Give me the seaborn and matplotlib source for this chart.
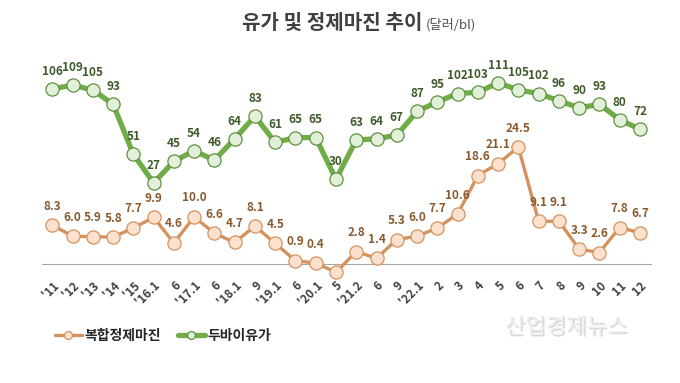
import numpy as np
import pandas as pd
import matplotlib
matplotlib.use('Agg')
import matplotlib.pyplot as plt
import matplotlib.patheffects as pe
import seaborn as sns

sns.set_style('white')
plt.rcParams['font.family'] = ['Noto Sans CJK KR', 'DejaVu Sans']

# data
periods = ["'11", "'12", "'13", "'14", "'15", "'16.1", "6", "'17.1", "6", "'18.1",
           "9", "'19.1", "6", "'20.1", "5", "'21.2", "6", "9", "'22.1", "2",
           "3", "4", "5", "6", "7", "8", "9", "10", "11", "12"]
dubai = [106, 109, 105, 93, 51, 27, 45, 54, 46, 64, 83, 61, 65, 65, 30,
         63, 64, 67, 87, 95, 102, 103, 111, 105, 102, 96, 90, 93, 80, 72]
margin = [8.3, 6.0, 5.9, 5.8, 7.7, 9.9, 4.6, 10.0, 6.6, 4.7, 8.1, 4.5, 0.9, 0.4, -1.5,
          2.8, 1.4, 5.3, 6.0, 7.7, 10.6, 18.6, 21.1, 24.5, 9.1, 9.1, 3.3, 2.6, 7.8, 6.7]

df = pd.DataFrame({'pos': np.arange(len(periods)), 'period': periods,
                   'dubai': dubai, 'margin': margin})

fig = plt.figure(figsize=(6.8, 3.83), dpi=100)
ax = fig.add_axes([0.062, 0.308, 0.897, 0.51])
ax2 = ax.twinx()

# orange: complex refining margin
sns.lineplot(data=df, x='pos', y='margin', ax=ax, color='#D4935E', lw=2.4,
             marker='o', markersize=9.5, markerfacecolor='#FCE1CF',
             markeredgecolor='#D4935E', markeredgewidth=0.9, clip_on=False,
             label='복합정제마진', legend=False)
# green: dubai oil price
sns.lineplot(data=df, x='pos', y='dubai', ax=ax2, color='#70AD47', lw=3.8,
             marker='o', markersize=9.5, markerfacecolor='#E2F0D9',
             markeredgecolor='#5E9140', markeredgewidth=0.9, clip_on=False,
             label='두바이유가', legend=False)

ax.set_xlim(-0.5, 29.6)
ax.set_ylim(0, 40.6)
ax2.set_ylim(-42, 122)
ax.axhline(0, color='#A6A6A6', lw=1.5, zorder=0)

for a in (ax, ax2):
    a.set_yticks([])
    a.set_ylabel('')
    for s in a.spines.values():
        s.set_visible(False)

ax.set_xlabel('')
ax.set_xticks(df['pos'])
ax.set_xticklabels(df['period'], rotation=45, ha='right', rotation_mode='anchor',
                   fontsize=8.5, fontweight='bold', color='#404040')
ax.tick_params(axis='x', length=0, pad=10)

for x, v in zip(df['pos'], df['margin']):
    ax.annotate(f'{v:.1f}', (x, v), xytext=(0, 9), textcoords='offset points',
                ha='center', va='bottom', fontsize=8.5, fontweight='bold', color='#8A5A2E')
for x, v in zip(df['pos'], df['dubai']):
    ax2.annotate(f'{v}', (x, v), xytext=(0, 8), textcoords='offset points',
                 ha='center', va='bottom', fontsize=8.5, fontweight='bold', color='#3F5A2A')

fig.text(0.621, 0.94, '유가 및 정제마진 추이', ha='right', va='center',
         fontsize=14.5, fontweight='bold', color='#404040')
fig.text(0.626, 0.935, '(달러/bl)', ha='left', va='center', fontsize=9.5, color='#505050')

h1, l1 = ax.get_legend_handles_labels()
h2, l2 = ax2.get_legend_handles_labels()
fig.legend(h1 + h2, l1 + l2, loc='center left', bbox_to_anchor=(0.07, 0.123),
           ncol=2, frameon=False, handlelength=2.0, handletextpad=0.15,
           columnspacing=1.2, markerscale=0.6, borderpad=0,
           prop={'weight': 'bold', 'size': 10})

fig.text(0.833, 0.146, '산업경제뉴스', ha='center', va='center', fontsize=16,
         color='#EEEEEE',
         path_effects=[pe.withSimplePatchShadow(offset=(1, -1), shadow_rgbFace='#BBBBBB', alpha=0.6)])

fig.savefig('out.png', dpi=100)
